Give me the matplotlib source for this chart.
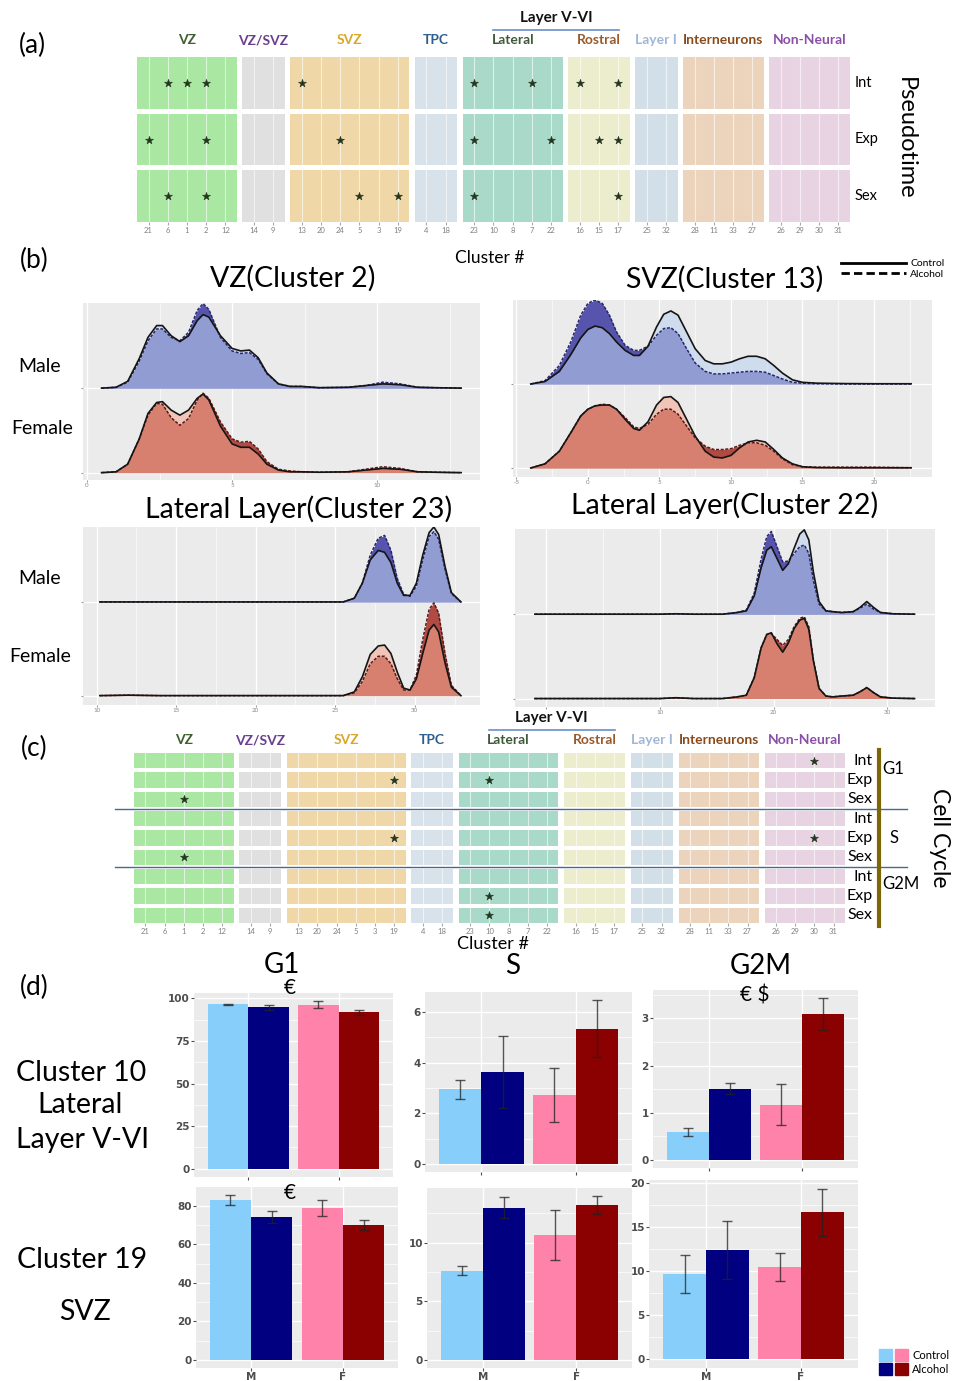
import numpy as np
import matplotlib.pyplot as plt
from matplotlib.lines import Line2D
from matplotlib.patches import Rectangle, Patch
from matplotlib.legend_handler import HandlerTuple

plt.rcParams['font.family'] = ['Lato', 'DejaVu Sans']

W, H = 954, 1381

# ---------------- (a) / (c) cluster strips
groups = ["VZ", "VZ/SVZ", "SVZ", "TPC", "Lateral", "Rostral", "Layer I", "Interneurons", "Non-Neural"]
group_clusters = [[21, 6, 1, 2, 12], [14, 9], [13, 20, 24, 5, 3, 19], [4, 18], [23, 10, 8, 7, 22],
                  [16, 15, 17], [25, 32], [28, 11, 33, 27], [26, 29, 30, 31]]
group_fill = ['#a9e7a3', '#e0e0e0', '#efd7a8', '#d8e2ea', '#a9d9c9', '#ecedcc', '#d3dfe8', '#ecd3bb', '#e8d3e2']
group_text = ['#3f5f2f', '#6b3f8f', '#d9a82b', '#2f5f8f', '#3f5a3a', '#9a5a2a', '#9fb6d6', '#8a4b1b', '#8a4fa8']

pseudo_rows = ["Int", "Exp", "Sex"]
pseudo_int = [6, 1, 2, 13, 23, 7, 16, 17]
pseudo_exp = [21, 2, 24, 23, 22, 15, 17]
pseudo_sex = [6, 2, 5, 19, 23, 17]

cycle_phases = ["G1", "S", "G2M"]
g1_int, g1_exp, g1_sex = [30], [19, 10], [1]
s_int, s_exp, s_sex = [], [19, 30], [1]
g2m_int, g2m_exp, g2m_sex = [], [10], [10]

# ---------------- (b) ridge densities (height in row units)
vz_x = [0.5, 1.0, 1.4, 1.8, 2.1, 2.4, 2.6, 2.9, 3.2, 3.5, 3.8, 4.0, 4.2, 4.6, 5.0, 5.3, 5.6, 5.9, 6.2, 6.6,
        7.0, 7.4, 8.0, 9.0, 9.6, 10.2, 10.8, 11.4, 12.0, 12.9]
vz_male_ctrl = [0, 0.01, 0.08, 0.35, 0.6, 0.74, 0.74, 0.62, 0.55, 0.62, 0.8, 0.87, 0.84, 0.62, 0.47, 0.44, 0.45,
                0.36, 0.18, 0.05, 0.02, 0.02, 0.005, 0.01, 0.03, 0.05, 0.04, 0.01, 0.005, 0]
vz_male_alc = [0, 0.01, 0.07, 0.32, 0.56, 0.70, 0.70, 0.60, 0.56, 0.66, 0.92, 1.0, 0.93, 0.60, 0.44, 0.41, 0.42,
               0.34, 0.17, 0.05, 0.02, 0.02, 0.005, 0.01, 0.03, 0.07, 0.05, 0.01, 0.005, 0]
vz_fem_ctrl = [0, 0.01, 0.1, 0.4, 0.7, 0.83, 0.84, 0.74, 0.68, 0.74, 0.88, 0.93, 0.86, 0.55, 0.34, 0.3, 0.3,
               0.22, 0.1, 0.03, 0.01, 0.01, 0.005, 0.01, 0.03, 0.05, 0.04, 0.01, 0.005, 0]
vz_fem_alc = [0, 0.01, 0.1, 0.4, 0.68, 0.82, 0.81, 0.65, 0.56, 0.64, 0.86, 0.94, 0.88, 0.6, 0.4, 0.36, 0.37,
              0.28, 0.13, 0.04, 0.02, 0.01, 0.005, 0.01, 0.04, 0.07, 0.05, 0.01, 0.005, 0]

svz_x = [-4, -3, -2, -1.2, -0.5, 0, 0.5, 1, 1.5, 2, 2.6, 3.2, 3.6, 4.2, 4.8, 5.3, 5.8, 6.3, 6.9, 7.5, 8.2, 8.8,
         9.4, 10, 10.6, 11.2, 11.8, 12.4, 13, 13.6, 14.3, 15, 16, 18, 20, 22.6]
svz_male_ctrl = [0, 0.03, 0.15, 0.35, 0.55, 0.65, 0.69, 0.67, 0.6, 0.5, 0.4, 0.34, 0.34, 0.45, 0.68, 0.83, 0.87,
                 0.82, 0.62, 0.42, 0.28, 0.24, 0.24, 0.26, 0.3, 0.33, 0.33, 0.3, 0.22, 0.13, 0.05, 0.02, 0.01,
                 0.005, 0.003, 0.003]
svz_male_alc = [0, 0.04, 0.22, 0.5, 0.82, 0.96, 1.0, 0.96, 0.82, 0.62, 0.46, 0.4, 0.4, 0.45, 0.58, 0.66, 0.67,
                0.6, 0.42, 0.25, 0.15, 0.12, 0.12, 0.13, 0.14, 0.15, 0.15, 0.14, 0.1, 0.06, 0.02, 0.01, 0.003,
                0, 0, 0]
svz_fem_ctrl = [0, 0.05, 0.2, 0.42, 0.62, 0.7, 0.74, 0.75, 0.75, 0.7, 0.58, 0.47, 0.45, 0.55, 0.75, 0.84, 0.85,
                0.78, 0.58, 0.38, 0.2, 0.13, 0.12, 0.15, 0.24, 0.31, 0.33, 0.31, 0.22, 0.12, 0.05, 0.015, 0.005,
                0.003, 0.003, 0.003]
svz_fem_alc = [0, 0.05, 0.2, 0.42, 0.62, 0.7, 0.74, 0.76, 0.75, 0.7, 0.6, 0.49, 0.47, 0.52, 0.64, 0.7, 0.7,
               0.64, 0.5, 0.36, 0.26, 0.22, 0.22, 0.23, 0.27, 0.3, 0.3, 0.27, 0.2, 0.11, 0.04, 0.015, 0.01,
               0.01, 0.01, 0.003]

lat23_x = [10.2, 12, 14, 18, 22, 25.5, 26.2, 26.7, 27.2, 27.7, 28.1, 28.5, 28.9, 29.3, 29.7, 30.1, 30.5, 30.9,
           31.2, 31.5, 31.9, 32.3, 32.9]
lat23_male_ctrl = [0, 0, 0, 0, 0, 0, 0.04, 0.2, 0.45, 0.55, 0.53, 0.42, 0.2, 0.07, 0.07, 0.2, 0.5, 0.74, 0.8,
                   0.72, 0.38, 0.1, 0]
lat23_male_alc = [0, 0, 0, 0, 0, 0, 0.04, 0.2, 0.5, 0.68, 0.71, 0.55, 0.25, 0.08, 0.06, 0.17, 0.45, 0.7, 0.75,
                  0.67, 0.35, 0.09, 0]
lat23_fem_ctrl = [0, 0.005, 0, 0, 0, 0, 0.04, 0.2, 0.44, 0.53, 0.54, 0.45, 0.25, 0.08, 0.06, 0.18, 0.45, 0.7,
                  0.76, 0.68, 0.35, 0.09, 0]
lat23_fem_alc = [0, 0.005, 0, 0, 0, 0, 0.03, 0.15, 0.34, 0.42, 0.42, 0.34, 0.18, 0.06, 0.06, 0.22, 0.6, 0.92,
                 0.99, 0.88, 0.45, 0.11, 0]

lat22_x = [-1, 5, 10, 11.4, 13, 15.5, 16.8, 17.6, 18.3, 18.9, 19.4, 19.8, 20.3, 20.8, 21.3, 21.8, 22.3, 22.7,
           23.1, 23.5, 24.0, 24.6, 25.2, 26, 27, 27.6, 28.2, 28.8, 29.4, 30.5, 32.4]
lat22_male_ctrl = [0, 0, 0, 0.005, 0, 0, 0.02, 0.04, 0.22, 0.55, 0.76, 0.8, 0.66, 0.52, 0.6, 0.78, 0.95, 1.0,
                   0.88, 0.5, 0.15, 0.04, 0.03, 0.02, 0.03, 0.08, 0.15, 0.08, 0.02, 0.005, 0]
lat22_male_alc = [0, 0, 0, 0.005, 0, 0, 0.02, 0.05, 0.25, 0.65, 0.92, 0.98, 0.8, 0.62, 0.63, 0.72, 0.8, 0.82,
                  0.72, 0.4, 0.12, 0.04, 0.03, 0.02, 0.03, 0.07, 0.12, 0.06, 0.02, 0.005, 0]
lat22_fem_ctrl = [0, 0, 0, 0.01, 0, 0, 0.02, 0.04, 0.25, 0.6, 0.76, 0.78, 0.65, 0.55, 0.66, 0.83, 0.93, 0.95,
                  0.82, 0.45, 0.12, 0.03, 0.02, 0.03, 0.04, 0.08, 0.13, 0.07, 0.02, 0.005, 0]
lat22_fem_alc = [0, 0, 0, 0.01, 0, 0, 0.02, 0.04, 0.25, 0.6, 0.76, 0.77, 0.7, 0.63, 0.7, 0.85, 0.95, 0.97,
                 0.85, 0.46, 0.12, 0.03, 0.02, 0.03, 0.04, 0.08, 0.13, 0.07, 0.02, 0.005, 0]

# ---------------- (d) bars: order M control, M alcohol, F control, F alcohol
sexes = ["M", "F"]
bar_colors = ['#87cefa', '#000080', '#ff82ab', '#8b0000']
g1_c10, g1_c10_err = [96.5, 94.8, 96.3, 91.8], [0.5, 1.3, 2.0, 1.5]
s_c10, s_c10_err = [2.95, 3.62, 2.71, 5.35], [0.38, 1.42, 1.06, 1.12]
g2m_c10, g2m_c10_err = [0.59, 1.51, 1.17, 3.09], [0.09, 0.11, 0.44, 0.34]
g1_c19, g1_c19_err = [83.0, 74.3, 78.9, 70.1], [2.6, 3.3, 4.0, 2.5]
s_c19, s_c19_err = [7.6, 13.0, 10.65, 13.2], [0.4, 0.9, 2.15, 0.77]
g2m_c19, g2m_c19_err = [9.7, 12.45, 10.5, 16.7], [2.2, 3.3, 1.55, 2.7]

fig = plt.figure(figsize=(W / 100, H / 100), dpi=100)


def box(x0, y0, x1, y1):
    return [x0 / W, 1 - y1 / H, (x1 - x0) / W, (y1 - y0) / H]


def txt(x, y, s, **kw):
    kw.setdefault('ha', 'center')
    kw.setdefault('va', 'center')
    fig.text(x / W, 1 - y / H, s, **kw)


def strip_panel(rect, star_rows, row_gap, label_y):
    ax = fig.add_axes(rect)
    pos, spans, s = {}, [], 0.0
    for cl in group_clusters:
        e = s + len(cl) + 0.2
        spans.append((s, e))
        for j, c in enumerate(cl):
            pos[c] = s + 0.6 + j
        s = e + 0.29
    period = 1 + row_gap
    for r, stars in enumerate(star_rows):
        y0 = r * period
        for (a, b), col, cl in zip(spans, group_fill, group_clusters):
            ax.add_patch(Rectangle((a, y0), b - a, 1, facecolor=col, edgecolor='none', zorder=0))
            for c in cl:
                ax.plot([pos[c], pos[c]], [y0, y0 + 1], color='white', lw=0.8, alpha=0.6, zorder=1)
        if stars:
            ax.scatter([pos[c] for c in stars], [y0 + 0.5] * len(stars), marker='*', s=36,
                       color='#24361f', linewidths=0.4, zorder=3)
    ax.set_xticks([pos[c] for cl in group_clusters for c in cl],
                  [str(c) for cl in group_clusters for c in cl])
    ax.set_yticks([])
    ax.set_xlim(0, spans[-1][1])
    ax.set_ylim(len(star_rows) * period - row_gap, 0)
    ax.tick_params(axis='x', length=2, color='#aaaaaa', labelsize=5.5, labelcolor='#808080', pad=1.5)
    for sp in ax.spines.values():
        sp.set_visible(False)
    ax.patch.set_alpha(0)
    tr = ax.get_xaxis_transform()
    for (a, b), g, tc in zip(spans, groups, group_text):
        ax.text((a + b) / 2, label_y, g, transform=tr, ha='center', va='center', color=tc,
                fontsize=10, fontweight='bold')
    lat, ros = spans[4], spans[5]
    x0, x1 = lat[0] + 1.55, ros[1] - 0.55
    ax.plot([x0, x1], [label_y + 0.06 * 165 / (rect[3] * H)] * 2, transform=tr, color='#6a8fc8',
            lw=1.2, clip_on=False)
    ax.text((x0 + x1) / 2, label_y + 0.135 * 165 / (rect[3] * H), "Layer V-VI", transform=tr,
            ha='center', va='center', fontsize=11, fontweight='bold', color='#111111')
    return ax, period


def ridge_panel(rect, x, m_c, m_a, f_c, f_a, xlim, ylim, ticks, tick_labels=None):
    ax = fig.add_axes(rect)
    ax.set_facecolor('#ebebeb')
    step = ticks[1] - ticks[0]
    ax.set_xticks(ticks, tick_labels if tick_labels else [str(t) for t in ticks])
    ax.set_xticks([t + step / 2 for t in [ticks[0] - step] + ticks], minor=True)
    ax.set_yticks([0, 1], ['', ''])
    ax.set_xlim(*xlim)
    ax.set_ylim(*ylim)
    ax.grid(which='major', color='white', lw=0.9)
    ax.grid(which='minor', axis='x', color='white', lw=0.45)
    ax.set_axisbelow(True)
    ax.tick_params(which='major', length=1.5, color='#999999', labelsize=4.5, labelcolor='#8a8a8a', pad=1)
    ax.tick_params(which='minor', length=0)
    for sp in ax.spines.values():
        sp.set_visible(False)
    x = np.array(x)
    rows = [(1, m_c, m_a, '#5654ac', '#bcd2f0', '#26266a'),
            (0, f_c, f_a, '#b04a42', '#f4a890', '#5a1818')]
    for base, c, a, dark, light, dline in rows:
        yc = base + np.array(c)
        ya = base + np.array(a)
        ax.fill_between(x, base, ya, color=dark, lw=0, zorder=2)
        ax.fill_between(x, base, yc, color=light, alpha=0.58, lw=0, zorder=2)
        ax.plot(x, ya, color=dline, lw=1.1, ls=(0, (2, 1)), zorder=2)
        ax.plot(x, yc, color='#151515', lw=1.2, zorder=2)
    return ax


def bar_panel(rect, vals, errs, yticks, show_x):
    ax = fig.add_axes(rect)
    ax.set_facecolor('#ebebeb')
    cats = np.arange(1, len(sexes) + 1)
    xpos = np.repeat(cats, 2) + np.tile([-0.225, 0.225], len(sexes))
    ax.bar(xpos, vals, width=0.45, color=bar_colors, zorder=2)
    ax.errorbar(xpos, vals, yerr=errs, fmt='none', ecolor='#222222', alpha=0.75, elinewidth=1.0,
                capsize=3.5, capthick=1.0, zorder=3)
    top = max(np.array(vals) + np.array(errs))
    ax.set_yticks(yticks)
    ax.set_yticks([t + (yticks[1] - yticks[0]) / 2 for t in yticks], minor=True)
    ax.set_xticks(cats, sexes if show_x else ['', ''])
    ax.set_xlim(0.4, 2.6)
    ax.set_ylim(-0.05 * top, 1.05 * top)
    ax.grid(which='major', color='white', lw=1.0)
    ax.grid(which='minor', axis='y', color='white', lw=0.5)
    ax.set_axisbelow(True)
    ax.tick_params(which='major', length=2, color='#4d4d4d', labelsize=7.5, labelcolor='#4d4d4d', pad=1)
    ax.tick_params(which='minor', length=0)
    for lab in ax.get_xticklabels() + ax.get_yticklabels():
        lab.set_fontweight('bold')
        lab.set_family('DejaVu Sans')
    for sp in ax.spines.values():
        sp.set_visible(False)
    return ax


# ---------------- panel (a)
ax_a, per_a = strip_panel(box(137, 57, 850, 222), [pseudo_int, pseudo_exp, pseudo_sex], 0.087, 1.103)
for r, lab in enumerate(pseudo_rows):
    ax_a.text(1.007, r * per_a + 0.5, lab, transform=ax_a.get_yaxis_transform(), ha='left', va='center',
              fontsize=10.5)
txt(32, 45, "(a)", fontsize=19)
txt(905, 138, "Pseudotime", fontsize=17, rotation=-90)
txt(490, 258, "Cluster #", fontsize=12.5)

# ---------------- panel (b)
txt(34, 260, "(b)", fontsize=19)
ridge_panel(box(83, 303, 480, 480), vz_x, vz_male_ctrl, vz_male_alc, vz_fem_ctrl, vz_fem_alc,
            (-0.14, 13.55), (-0.087, 2.007), [0, 5, 10])
ridge_panel(box(513, 300, 932, 477), svz_x, svz_male_ctrl, svz_male_alc, svz_fem_ctrl, svz_fem_alc,
            (-5.24, 24.06), (-0.107, 2.0), [-5, 0, 5, 10, 15, 20])
ridge_panel(box(83, 527, 480, 705), lat23_x, lat23_male_ctrl, lat23_male_alc, lat23_fem_ctrl, lat23_fem_alc,
            (9.14, 34.1), (-0.1, 1.80), [10, 15, 20, 25, 30])
ridge_panel(box(515, 529, 935, 707), lat22_x, lat22_male_ctrl, lat22_male_alc, lat22_fem_ctrl, lat22_fem_alc,
            (-2.75, 34.2), (-0.1, 2.01), [0, 10, 20, 30], ['', '10', '20', '30'])
txt(293, 278, "VZ(Cluster 2)", fontsize=20.5)
txt(725, 279, "SVZ(Cluster 13)", fontsize=20.5)
txt(299, 509, "Lateral Layer(Cluster 23)", fontsize=20.5)
txt(725, 505, "Lateral Layer(Cluster 22)", fontsize=20.5)
txt(40, 366, "Male", fontsize=14)
txt(42, 428, "Female", fontsize=14)
txt(40, 579, "Male", fontsize=14)
txt(40, 657, "Female", fontsize=14)
fig.legend(handles=[Line2D([], [], color='black', lw=2), Line2D([], [], color='black', lw=2, ls=(0, (3, 1.5)))],
           labels=["Control", "Alcohol"], loc='upper left', bbox_to_anchor=(841 / W, 1 - 259 / H),
           frameon=False, fontsize=7.5, handlelength=6.2, handletextpad=0.45, labelspacing=0.1,
           borderpad=0, borderaxespad=0)

# ---------------- panel (c)
cycle_stars = [g1_int, g1_exp, g1_sex, s_int, s_exp, s_sex, g2m_int, g2m_exp, g2m_sex]
ax_c, per_c = strip_panel(box(134, 753, 845, 923), cycle_stars, 0.25, 1.076)
ytr = ax_c.get_yaxis_transform()
for r in range(len(cycle_stars)):
    ax_c.text(1.039, r * per_c + 0.5, pseudo_rows[r % 3], transform=ytr, ha='right', va='center',
              fontsize=11.5)
for k in (1, 2):
    ax_c.axhline(3 * k * per_c - 0.125, xmin=-0.027, xmax=1.087, color='#4a6a8a', lw=1, clip_on=False)
ax_c.plot([1.048, 1.048], [-0.2, 9 * per_c - 0.05], transform=ytr, color='#7d6608', lw=3, clip_on=False)
phase_y = [0.5 + 0.55, 4 * per_c + 0.5, 6 * per_c + 0.5 + 0.45]
phase_x = [1.053, 1.063, 1.053]
for ph, py, px in zip(cycle_phases, phase_y, phase_x):
    ax_c.text(px, py, ph, transform=ytr, ha='left', va='center', fontsize=12)
txt(34, 748, "(c)", fontsize=19)
txt(940, 838, "Cell Cycle", fontsize=16.5, rotation=-90)
txt(493, 944, "Cluster #", fontsize=13)

# ---------------- panel (d)
txt(34, 987, "(d)", fontsize=19)
bar_panel(box(194, 993, 393, 1177), g1_c10, g1_c10_err, [0, 25, 50, 75, 100], False)
bar_panel(box(425, 992, 632, 1172), s_c10, s_c10_err, [0, 2, 4, 6], False)
bar_panel(box(653, 990, 858, 1168), g2m_c10, g2m_c10_err, [0, 1, 2, 3], False)
bar_panel(box(196, 1187, 398, 1368), g1_c19, g1_c19_err, [0, 20, 40, 60, 80], True)
bar_panel(box(427, 1188, 632, 1368), s_c19, s_c19_err, [0, 5, 10], True)
bar_panel(box(649, 1180, 858, 1368), g2m_c19, g2m_c19_err, [0, 5, 10, 15, 20], True)
txt(282, 965, "G1", fontsize=20)
txt(290, 988, "€", fontsize=15)
txt(513, 966, "S", fontsize=20)
txt(761, 966, "G2M", fontsize=20)
txt(755, 995, "€ $", fontsize=15)
txt(290, 1193, "€", fontsize=15)
txt(81, 1073, "Cluster 10", fontsize=20.5)
txt(80, 1105, "Lateral", fontsize=20.5)
txt(83, 1140, "Layer V-VI", fontsize=20.5)
txt(82, 1260, "Cluster 19", fontsize=20.5)
txt(85, 1312, "SVZ", fontsize=20.5)
fig.legend(handles=[(Patch(color=bar_colors[0]), Patch(color=bar_colors[2])),
                    (Patch(color=bar_colors[1]), Patch(color=bar_colors[3]))],
           labels=["Control", "Alcohol"], handler_map={tuple: HandlerTuple(ndivide=None, pad=0.3)},
           loc='upper left', bbox_to_anchor=(879 / W, 1 - 1349 / H), frameon=False, fontsize=8,
           handlelength=2.6, handleheight=1.3, handletextpad=0.4, labelspacing=0.15,
           borderpad=0, borderaxespad=0)

fig.savefig("out.png", dpi=100)
